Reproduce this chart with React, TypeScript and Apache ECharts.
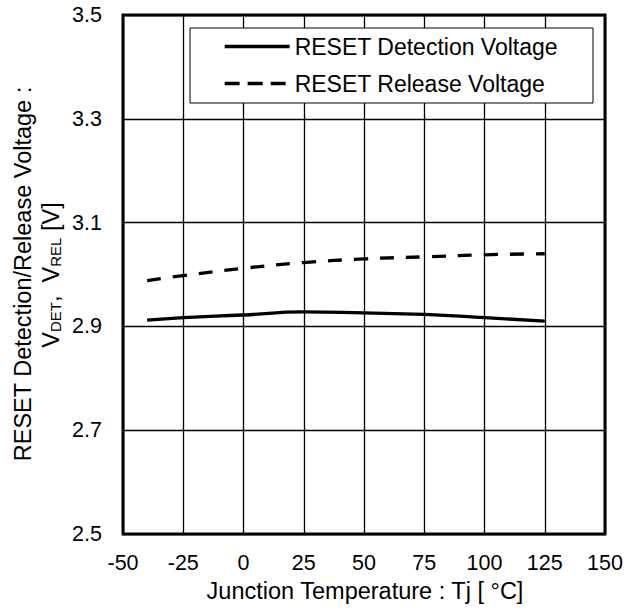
import React, { useEffect, useRef } from "react";
import * as echarts from "echarts";

const temps = [-40, -25, 0, 25, 50, 75, 100, 125];
const detection = [2.912, 2.917, 2.922, 2.928, 2.926, 2.923, 2.917, 2.910];
const release = [2.988, 2.998, 3.012, 3.023, 3.030, 3.034, 3.038, 3.040];
const seriesNames = ["RESET Detection Voltage", "RESET Release Voltage"];
const xTitle = "Junction Temperature : Tj [ °C]";
const yTitle1 = "RESET Detection/Release Voltage :";

const FONT = "'Liberation Sans', Arial, Helvetica, sans-serif";

export default function App() {
  const ref = useRef<HTMLDivElement>(null);
  useEffect(() => {
    if (!ref.current) return;
    const chart = echarts.init(ref.current, undefined, { renderer: "svg" });
    chart.setOption({
      animation: false,
      backgroundColor: "#fff",
      textStyle: { fontFamily: FONT },
      grid: {
        left: 123,
        right: 38,
        top: 15,
        bottom: 77,
        show: true,
        borderColor: "#000",
        borderWidth: 3,
        backgroundColor: "transparent",
      },
      xAxis: {
        type: "value",
        min: -50,
        max: 150,
        interval: 25,
        axisLine: { show: false },
        axisTick: { show: false },
        splitLine: { show: true, lineStyle: { color: "#000", width: 1.3 } },
        axisLabel: { color: "#000", fontSize: 21.5, fontFamily: FONT, margin: 18 },
      },
      yAxis: {
        type: "value",
        min: 2.5,
        max: 3.5,
        interval: 0.2,
        axisLine: { show: false },
        axisTick: { show: false },
        splitLine: { show: true, lineStyle: { color: "#000", width: 1.3 } },
        axisLabel: {
          color: "#000",
          fontSize: 21.5,
          fontFamily: FONT,
          margin: 21,
          formatter: (v: number) => v.toFixed(1),
        },
      },
      legend: {
        orient: "vertical",
        left: 190,
        top: 27,
        padding: [8, 0, 0, 33],
        itemWidth: 65,
        itemHeight: 14,
        itemGap: 14,
        z: 10,
        itemStyle: { opacity: 0 },
        textStyle: { color: "#000", fontSize: 23, fontFamily: FONT },
        data: [
          { name: seriesNames[0], lineStyle: { width: 3.3, type: "solid", color: "#000" } },
          { name: seriesNames[1], lineStyle: { width: 3.3, type: [15, 8], color: "#000" } },
        ],
      },
      graphic: [
        {
          type: "rect",
          z: 5,
          shape: { x: 190, y: 28, width: 403, height: 75 },
          style: { fill: "#fff", stroke: "#000", lineWidth: 1 },
        },
        {
          type: "text",
          x: 365,
          y: 591,
          style: {
            text: xTitle,
            fill: "#000",
            font: `23.5px ${FONT}`,
            textAlign: "center",
            textVerticalAlign: "middle",
          },
        },
        {
          type: "text",
          x: 23,
          y: 274,
          rotation: Math.PI / 2,
          style: {
            text: yTitle1,
            fill: "#000",
            font: `23.5px ${FONT}`,
            textAlign: "center",
            textVerticalAlign: "middle",
          },
        },
        {
          type: "text",
          x: 51,
          y: 275,
          rotation: Math.PI / 2,
          style: {
            text: "{m|V}{s|DET}{m|,  V}{s|REL}{m| [V]}",
            fill: "#000",
            textAlign: "center",
            textVerticalAlign: "middle",
            rich: {
              m: { fontSize: 23.5, fontFamily: FONT, lineHeight: 23, fill: "#000" },
              s: { fontSize: 15, fontFamily: FONT, lineHeight: 15, verticalAlign: "bottom", fill: "#000" },
            },
          },
        },
      ],
      series: [
        {
          name: seriesNames[0],
          type: "line",
          smooth: true,
          showSymbol: false,
          symbol: "none",
          data: temps.map((t, i) => [t, detection[i]]),
          lineStyle: { color: "#000", width: 3.3 },
          itemStyle: { color: "#000" },
        },
        {
          name: seriesNames[1],
          type: "line",
          smooth: true,
          showSymbol: false,
          symbol: "none",
          data: temps.map((t, i) => [t, release[i]]),
          lineStyle: { color: "#000", width: 3.3, type: [14, 12] },
          itemStyle: { color: "#000" },
        },
      ],
    });
    return () => chart.dispose();
  }, []);
  return (
    <div
      ref={ref}
      style={{ position: "absolute", left: 0, top: 0, width: 643, height: 611 }}
    />
  );
}
